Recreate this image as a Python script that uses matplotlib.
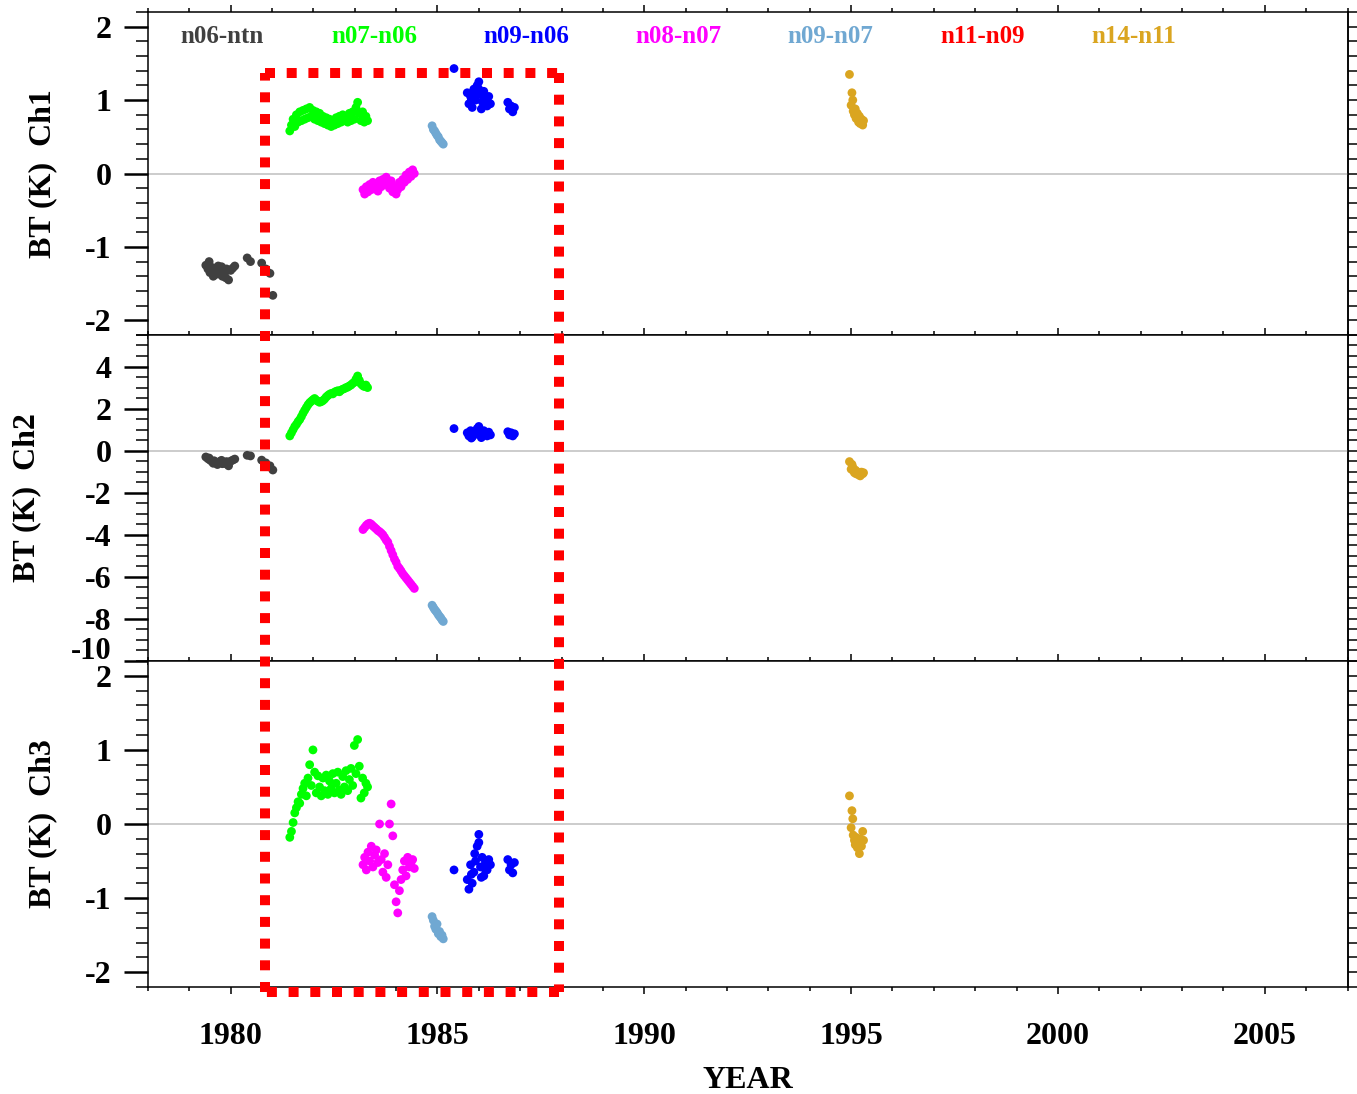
import numpy as np
import matplotlib
matplotlib.use('Agg')
import matplotlib.pyplot as plt
import matplotlib.transforms as mtransforms
from matplotlib.lines import Line2D
from matplotlib.ticker import MultipleLocator, NullFormatter, FuncFormatter

plt.rcParams['font.family'] = ['Liberation Serif', 'DejaVu Serif']
plt.rcParams['font.weight'] = 'bold'
plt.rcParams['axes.unicode_minus'] = False

# ---- satellite pair differences (BT, K) per channel ----
pair_names = ["n06-ntn", "n07-n06", "n09-n06", "n08-n07", "n09-n07", "n11-n09", "n14-n11"]
pair_colors = ["#404040", "#00ff00", "#0000ff", "#ff00ff", "#70a8d2", "#ff0000", "#daa520"]

# n06-ntn
t_n06 = [1979.40, 1979.45, 1979.50, 1979.55, 1979.60, 1979.65, 1979.70, 1979.75, 1979.80, 1979.85,
         1979.90, 1979.95, 1980.00, 1980.05, 1980.10, 1979.48, 1979.58, 1979.68, 1979.78, 1979.88,
         1980.40, 1980.48, 1980.75, 1980.85, 1980.95, 1981.02]
ch1_n06 = [-1.25, -1.30, -1.35, -1.28, -1.38, -1.30, -1.26, -1.33, -1.40, -1.36,
           -1.30, -1.45, -1.32, -1.29, -1.26, -1.20, -1.40, -1.37, -1.27, -1.42,
           -1.15, -1.20, -1.22, -1.30, -1.36, -1.66]
ch2_n06 = [-0.30, -0.38, -0.45, -0.52, -0.48, -0.55, -0.58, -0.50, -0.62, -0.56,
           -0.52, -0.72, -0.50, -0.45, -0.40, -0.35, -0.60, -0.66, -0.46, -0.62,
           -0.22, -0.25, -0.45, -0.58, -0.72, -0.92]
ch3_n06 = []

# n07-n06
t_n07 = [1981.43, 1981.47, 1981.51, 1981.55, 1981.59, 1981.63, 1981.67, 1981.71, 1981.75, 1981.79,
         1981.83, 1981.87, 1981.91, 1981.95, 1981.99, 1982.03, 1982.07, 1982.11, 1982.15, 1982.19,
         1982.23, 1982.27, 1982.31, 1982.35, 1982.39, 1982.43, 1982.47, 1982.51, 1982.55, 1982.59,
         1982.63, 1982.67, 1982.71, 1982.75, 1982.79, 1982.83, 1982.87, 1982.91, 1982.95, 1982.99,
         1983.03, 1983.07, 1983.11, 1983.15, 1983.19, 1983.23, 1983.27, 1983.31]
ch1_n07 = [0.58, 0.66, 0.74, 0.64, 0.80, 0.70, 0.84, 0.72, 0.86, 0.74,
           0.88, 0.76, 0.90, 0.78, 0.86, 0.74, 0.84, 0.72, 0.82, 0.70,
           0.78, 0.68, 0.76, 0.66, 0.74, 0.64, 0.72, 0.66, 0.76, 0.68,
           0.78, 0.70, 0.80, 0.72, 0.78, 0.70, 0.82, 0.72, 0.84, 0.74,
           0.90, 0.97, 0.82, 0.72, 0.84, 0.70, 0.78, 0.72]
ch2_n07 = [0.70, 0.85, 1.00, 1.15, 1.25, 1.38, 1.48, 1.62, 1.78, 1.92,
           2.05, 2.18, 2.28, 2.35, 2.42, 2.48, 2.40, 2.35, 2.30, 2.33,
           2.38, 2.45, 2.55, 2.62, 2.68, 2.72, 2.70, 2.78, 2.82, 2.85,
           2.80, 2.88, 2.92, 2.95, 3.00, 3.02, 3.08, 3.12, 3.20, 3.25,
           3.40, 3.55, 3.35, 3.18, 3.10, 3.05, 3.12, 3.00]
ch3_n07 = [-0.18, -0.10, 0.02, 0.15, 0.22, 0.30, 0.28, 0.40, 0.48, 0.55,
           0.38, 0.62, 0.80, 0.52, 1.00, 0.70, 0.42, 0.65, 0.50, 0.38,
           0.62, 0.45, 0.66, 0.40, 0.58, 0.48, 0.68, 0.42, 0.55, 0.70,
           0.46, 0.40, 0.64, 0.50, 0.72, 0.45, 0.60, 0.75, 0.52, 1.06,
           0.68, 1.14, 0.78, 0.35, 0.62, 0.42, 0.55, 0.50]

# n09-n06
t_n09a = [1985.40, 1985.72, 1985.76, 1985.80, 1985.84, 1985.88, 1985.92, 1985.96, 1986.00, 1986.04,
          1986.08, 1986.12, 1986.16, 1986.20, 1986.24, 1986.28, 1985.82, 1985.90, 1986.00, 1986.06,
          1986.14, 1986.70, 1986.74, 1986.78, 1986.82, 1986.86]
ch1_n09a = [1.43, 1.10, 0.95, 1.05, 0.90, 1.15, 1.00, 1.20, 1.25, 1.08,
            0.98, 1.12, 1.02, 0.92, 1.05, 0.95, 1.00, 1.08, 1.15, 0.88,
            0.95, 0.97, 0.88, 0.92, 0.84, 0.90]
ch2_n09a = [1.05, 0.85, 0.70, 0.95, 0.65, 0.90, 0.78, 1.05, 1.15, 0.85,
            0.72, 0.95, 0.80, 0.70, 0.88, 0.75, 0.60, 0.92, 1.00, 0.62,
            0.82, 0.90, 0.75, 0.85, 0.70, 0.80]
ch3_n09a = [-0.62, -0.75, -0.88, -0.55, -0.80, -0.65, -0.50, -0.30, -0.14, -0.58,
            -0.45, -0.70, -0.52, -0.62, -0.48, -0.55, -0.68, -0.40, -0.25, -0.72,
            -0.60, -0.48, -0.62, -0.55, -0.66, -0.52]

# n08-n07
t_n08 = [1983.20, 1983.24, 1983.28, 1983.32, 1983.36, 1983.40, 1983.44, 1983.48, 1983.52, 1983.56,
         1983.60, 1983.64, 1983.68, 1983.72, 1983.76, 1983.80, 1983.84, 1983.88, 1983.92, 1983.96,
         1984.00, 1984.04, 1984.08, 1984.12, 1984.16, 1984.20, 1984.24, 1984.28, 1984.32, 1984.36,
         1984.40, 1984.44]
ch1_n08 = [-0.22, -0.28, -0.18, -0.25, -0.15, -0.22, -0.12, -0.20, -0.16, -0.24,
           -0.10, -0.18, -0.08, -0.15, -0.05, -0.12, -0.20, -0.10, -0.25, -0.18,
           -0.28, -0.22, -0.12, -0.18, -0.08, -0.12, -0.02, -0.08, 0.02, -0.04,
           0.05, 0.00]
ch2_n08 = [-3.75, -3.65, -3.55, -3.48, -3.45, -3.50, -3.58, -3.65, -3.72, -3.80,
           -3.85, -3.92, -4.00, -4.12, -4.25, -4.35, -4.55, -4.75, -4.95, -5.15,
           -5.30, -5.50, -5.60, -5.72, -5.85, -5.95, -6.05, -6.15, -6.25, -6.35,
           -6.45, -6.55]
ch3_n08 = [-0.55, -0.45, -0.62, -0.38, -0.50, -0.30, -0.58, -0.42, -0.35, -0.52,
           0.00, -0.48, -0.65, -0.40, -0.72, -0.55, 0.00, 0.27, -0.16, -0.82,
           -1.05, -1.20, -0.90, -0.75, -0.62, -0.50, -0.70, -0.45, -0.58, -0.52,
           -0.48, -0.60]

# n09-n07
t_n09b = [1984.87, 1984.90, 1984.93, 1984.96, 1984.99, 1985.02, 1985.05, 1985.08, 1985.11, 1985.14]
ch1_n09b = [0.65, 0.60, 0.58, 0.55, 0.52, 0.50, 0.46, 0.44, 0.42, 0.40]
ch2_n09b = [-7.35, -7.45, -7.55, -7.62, -7.70, -7.80, -7.88, -7.95, -8.05, -8.12]
ch3_n09b = [-1.25, -1.30, -1.38, -1.42, -1.35, -1.48, -1.45, -1.52, -1.50, -1.55]

# n11-n09 (no collocations in range)
t_n11 = []
ch1_n11 = []
ch2_n11 = []
ch3_n11 = []

# n14-n11
t_n14 = [1994.96, 1995.02, 1995.04, 1995.00, 1995.05, 1995.08, 1995.10, 1995.12, 1995.15, 1995.18,
         1995.20, 1995.22, 1995.25, 1995.28, 1995.30]
ch1_n14 = [1.35, 1.10, 1.00, 0.93, 0.85, 0.80, 0.88, 0.75, 0.82, 0.70, 0.78, 0.68, 0.74, 0.66, 0.72]
ch2_n14 = [-0.52, -0.65, -0.78, -0.88, -0.95, -1.05, -0.92, -1.10, -1.00, -1.15, -1.05, -1.20, -1.02, -1.10, -1.05]
ch3_n14 = [0.38, 0.18, 0.07, -0.05, -0.15, -0.22, -0.28, -0.18, -0.32, -0.25, -0.40, -0.20, -0.30, -0.10, -0.22]

pair_times = [t_n06, t_n07, t_n09a, t_n08, t_n09b, t_n11, t_n14]
pair_ch1 = [ch1_n06, ch1_n07, ch1_n09a, ch1_n08, ch1_n09b, ch1_n11, ch1_n14]
pair_ch2 = [ch2_n06, ch2_n07, ch2_n09a, ch2_n08, ch2_n09b, ch2_n11, ch2_n14]
pair_ch3 = [ch3_n06, ch3_n07, ch3_n09a, ch3_n08, ch3_n09b, ch3_n11, ch3_n14]

channel_labels = ["BT (K)  Ch1", "BT (K)  Ch2", "BT (K)  Ch3"]
channel_ylims = [(-2.2, 2.2), (-10.0, 5.5), (-2.2, 2.2)]
channel_major = [1, 2, 1]
channel_minor = [0.2, 0.5, 0.2]
xlims = (1978, 2007)

# highlighted period
box_years = (1980.84, 1987.93)
box_fig_y = (0.0928, 0.9337)

fig = plt.figure(figsize=(13.57, 10.94), dpi=100)
left, width = 0.109, 0.884
panel_pos = [(0.6938, 0.2952), (0.3958, 0.2980), (0.0978, 0.2980)]
label_xpos = [-0.076, -0.089, -0.076]
ytick_pad = 9

def hide_bottom_label(v, pos):
    # -10 sits on the panel edge, drawn separately a bit higher
    if abs(v + 10) < 1e-6:
        return ''
    return '%d' % v

axes = []
for i in range(3):
    bottom, height = panel_pos[i]
    ax = fig.add_axes([left, bottom, width, height])
    axes.append(ax)
    data = [pair_ch1, pair_ch2, pair_ch3][i]
    ax.axhline(0, color='#c4c4c4', lw=1.2, zorder=1)
    for k in range(len(pair_names)):
        if len(data[k]) == 0:
            continue
        ax.scatter(pair_times[k], data[k], s=40, color=pair_colors[k],
                   edgecolors='none', zorder=3)
    ax.set_xlim(xlims)
    ax.set_ylim(channel_ylims[i])
    ax.xaxis.set_major_locator(MultipleLocator(5))
    ax.xaxis.set_minor_locator(MultipleLocator(1))
    ax.yaxis.set_major_locator(MultipleLocator(channel_major[i]))
    ax.yaxis.set_minor_locator(MultipleLocator(channel_minor[i]))
    ax.tick_params(axis='x', which='both', direction='out', top=True, bottom=True,
                   labelsize=23, pad=20, width=1.1)
    ax.tick_params(axis='x', which='major', length=5)
    ax.tick_params(axis='x', which='minor', length=2.9)
    ax.tick_params(axis='y', which='both', direction='out', left=True, right=False,
                   labelsize=23, pad=ytick_pad)
    ax.tick_params(axis='y', which='major', length=17.3, width=1.8)
    ax.tick_params(axis='y', which='minor', length=8.6, width=1.1)
    for sp in ax.spines.values():
        sp.set_linewidth(1.1)
    if i < 2:
        ax.xaxis.set_major_formatter(NullFormatter())
    ax.set_ylabel(channel_labels[i], fontsize=23, fontweight='bold')
    ax.yaxis.set_label_coords(label_xpos[i], 0.5)

    sec = ax.secondary_yaxis('right')
    sec.yaxis.set_major_locator(MultipleLocator(channel_major[i]))
    sec.yaxis.set_minor_locator(MultipleLocator(channel_minor[i]))
    sec.tick_params(which='both', direction='out', length=7.2, width=1.1, labelright=False)
    sec.spines['right'].set_linewidth(1.1)

axes[1].yaxis.set_major_formatter(FuncFormatter(hide_bottom_label))
axes[1].annotate('-10', xy=(0, -10), xycoords=('axes fraction', 'data'),
                 xytext=(-(17.3 + ytick_pad), 9), textcoords='offset points',
                 ha='right', va='center_baseline', fontsize=22, fontweight='bold',
                 annotation_clip=False)

axes[2].set_xlabel("YEAR", fontsize=23, fontweight='bold', labelpad=11)

for k, name in enumerate(pair_names):
    axes[0].text(0.062 + k * 0.1267, 0.923, name, transform=axes[0].transAxes,
                 color=pair_colors[k], fontsize=18, fontweight='bold',
                 ha='center', va='center')

# dashed red frame across the three panels
trans = mtransforms.blended_transform_factory(axes[2].transData, fig.transFigure)
x0, x1 = box_years
y0, y1 = box_fig_y
segs = [([x0, x1], [y1, y1]), ([x1, x1], [y1, y0]), ([x1, x0], [y0, y0]), ([x0, x0], [y0, y1])]
for xs, ys in segs:
    fig.add_artist(Line2D(xs, ys, transform=trans, color='#ff0000', lw=7.2,
                          linestyle=(0, (1.0, 1.17)), dash_capstyle='butt', zorder=10))

fig.savefig('out.png', dpi=100)
